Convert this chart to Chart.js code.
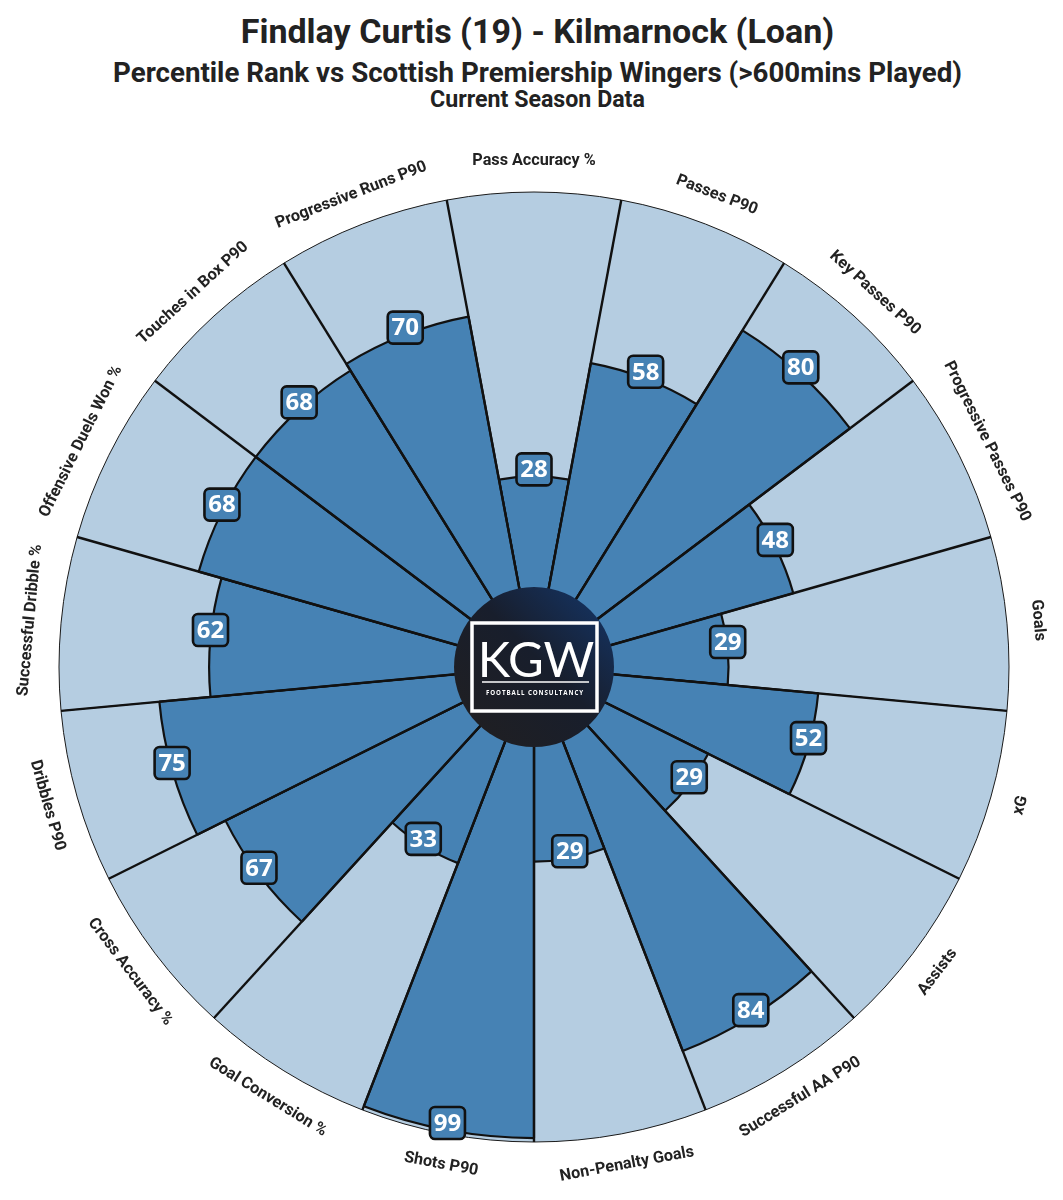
<!DOCTYPE html>
<html>
<head>
<meta charset="utf-8">
<title>Findlay Curtis percentile rank</title>
<script src="https://cdn.jsdelivr.net/npm/chart.js@4"></script>
<style>
  html, body { margin: 0; padding: 0; background: #fff; }
  #wrap { position: relative; width: 1063px; height: 1200px; overflow: hidden; }
  #chart { position: absolute; left: 0; top: 0; }
  .head {
    position: absolute; left: 0; width: 1075px; text-align: center;
    font-family: Roboto, sans-serif; font-weight: 700; color: #222; white-space: nowrap;
  }
  #t1 { top: 10px; font-size: 34px; line-height: 42px; }
  #t2 { top: 56px; font-size: 27.7px; line-height: 34px; }
  #t3 { top: 86px; font-size: 23.2px; line-height: 26px; }
</style>
</head>
<body>
<div id="wrap">
  <div class="head" id="t1">Findlay Curtis (19) - Kilmarnock (Loan)</div>
  <div class="head" id="t2">Percentile Rank vs Scottish Premiership Wingers (&gt;600mins Played)</div>
  <div class="head" id="t3">Current Season Data</div>
  <canvas id="chart" width="1063" height="1200"></canvas>
</div>
<script>
'use strict';

const METRICS = ['Pass Accuracy %', 'Passes P90', 'Key Passes P90', 'Progressive Passes P90', 'Goals', 'xG',
  'Assists', 'Successful AA P90', 'Non-Penalty Goals', 'Shots P90', 'Goal Conversion %', 'Cross Accuracy %',
  'Dribbles P90', 'Successful Dribble %', 'Offensive Duels Won %', 'Touches in Box P90', 'Progressive Runs P90'];
const PERCENTILES = [28, 58, 80, 48, 29, 52, 29, 84, 29, 99, 33, 67, 75, 62, 68, 68, 70];
const FULL_SCALE = [100, 100, 100, 100, 100, 100, 100, 100, 100, 100, 100, 100, 100, 100, 100, 100, 100];

const DARK = '#4682b4';
const LIGHT = '#b5cde1';
const INK = '#222222';
const LABEL_OFFSET = 31;  // px outside the outer ring
const BOX_LIFT = 7;       // value boxes sit a little above their point
const HOLE_RADIUS = 80;

// ---------------------------------------------------------------------------
// Metric names around the ring, kept upright
// ---------------------------------------------------------------------------
function drawMetricNames(chart, scale) {
  const ctx = chart.ctx;
  ctx.save();
  ctx.font = '700 16.2px Roboto';
  ctx.fillStyle = INK;
  ctx.textAlign = 'center';
  ctx.textBaseline = 'middle';
  METRICS.forEach((name, i) => {
    const p = scale.getPointPosition(i + 0.5, scale.drawingArea + LABEL_OFFSET);
    let rot = p.angle + Math.PI / 2;
    if (rot > Math.PI) rot -= 2 * Math.PI;
    if (Math.abs(rot) > Math.PI / 2) rot += Math.PI;
    ctx.save();
    ctx.translate(p.x, p.y);
    ctx.rotate(rot);
    ctx.fillText(name, 0, 0);
    ctx.restore();
  });
  ctx.restore();
}

// ---------------------------------------------------------------------------
// Value boxes
// ---------------------------------------------------------------------------
function drawValueBoxes(chart, scale) {
  const ctx = chart.ctx;
  const w = 35, h = 32;
  ctx.save();
  PERCENTILES.forEach((v, i) => {
    const p = scale.getPointPosition(i + 0.5, scale.getDistanceFromCenterForValue(v));
    const x = p.x, y = p.y - BOX_LIFT;
    ctx.beginPath();
    ctx.roundRect(x - w / 2, y - h / 2, w, h, 5);
    ctx.fillStyle = DARK;
    ctx.fill();
    ctx.lineWidth = 2.6;
    ctx.strokeStyle = '#111';
    ctx.stroke();
    ctx.font = '700 24px "Open Sans"';
    ctx.fillStyle = '#fff';
    ctx.textAlign = 'center';
    ctx.textBaseline = 'middle';
    ctx.fillText(String(v), x, y + 1);
  });
  ctx.restore();
}

// ---------------------------------------------------------------------------
// Logo in the hole
// ---------------------------------------------------------------------------
function drawLogo(chart, scale) {
  const ctx = chart.ctx;
  const cx = scale.xCenter, cy = scale.yCenter;
  ctx.save();
  const grad = ctx.createLinearGradient(cx - 60, cy + 60, cx + 60, cy - 60);
  grad.addColorStop(0, '#1f1f23');
  grad.addColorStop(0.55, '#181e2c');
  grad.addColorStop(1, '#15305a');
  ctx.beginPath();
  ctx.arc(cx, cy, HOLE_RADIUS, 0, 2 * Math.PI);
  ctx.fillStyle = grad;
  ctx.fill();

  ctx.strokeStyle = '#fff';
  ctx.lineWidth = 3.5;
  ctx.strokeRect(cx - 62, cy - 44, 125, 88);

  ctx.fillStyle = '#fff';
  ctx.textAlign = 'center';
  ctx.textBaseline = 'alphabetic';
  ctx.font = '400 49px Lato';
  ctx.fillText('KGW', cx + 2, cy + 10);

  ctx.lineWidth = 1.3;
  ctx.beginPath();
  ctx.moveTo(cx - 52, cy + 15);
  ctx.lineTo(cx + 55, cy + 15);
  ctx.stroke();

  ctx.font = '700 6.2px "Open Sans"';
  ctx.letterSpacing = '0.9px';
  ctx.fillText('FOOTBALL CONSULTANCY', cx + 1, cy + 28);
  ctx.restore();
}

const overlayPlugin = {
  id: 'overlay',
  afterDraw(chart) {
    const scale = chart.scales.r;
    drawLogo(chart, scale);
    drawValueBoxes(chart, scale);
    drawMetricNames(chart, scale);
  },
};

// ---------------------------------------------------------------------------
// Chart
// ---------------------------------------------------------------------------
new Chart(document.getElementById('chart').getContext('2d'), {
  type: 'polarArea',
  data: {
    labels: METRICS,
    datasets: [
      { label: 'Percentile', data: PERCENTILES, backgroundColor: DARK, borderColor: '#111', borderWidth: 2.2 },
      { label: 'Scale', data: FULL_SCALE, backgroundColor: LIGHT, borderColor: '#1a1a1a', borderWidth: 1 },
    ],
  },
  options: {
    responsive: false,
    animation: false,
    devicePixelRatio: 1,
    layout: { padding: { left: 59, right: 54, top: 192, bottom: 58 } },
    plugins: { legend: { display: false }, tooltip: { enabled: false } },
    scales: {
      r: {
        min: -20.25,
        max: 100,
        startAngle: -180 / METRICS.length,
        ticks: { display: false },
        grid: { display: false, z: 1 },
        pointLabels: { display: false },
        angleLines: { display: true, color: '#111', lineWidth: 2.4 },
      },
    },
  },
  plugins: [overlayPlugin],
});
</script>
</body>
</html>
